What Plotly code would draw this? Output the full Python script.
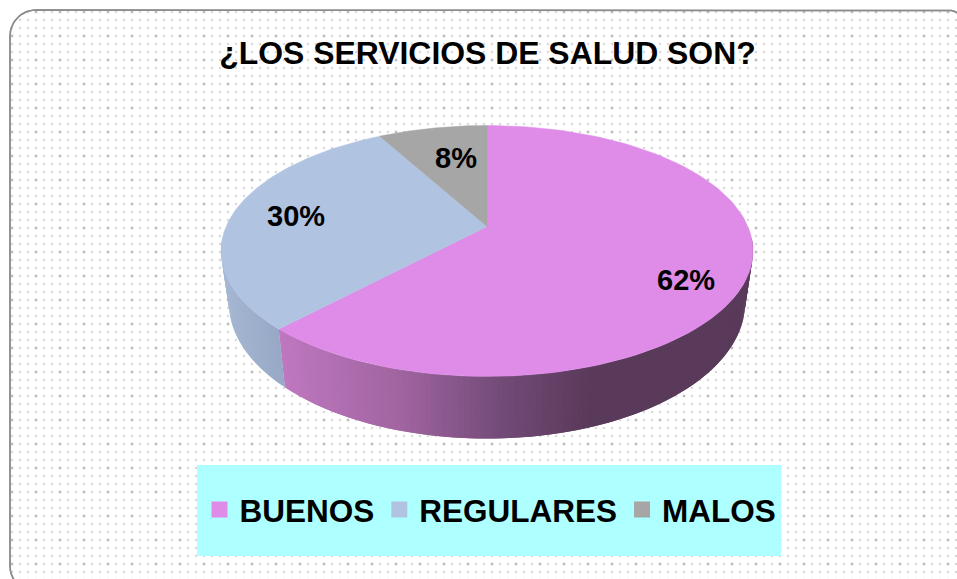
import numpy as np
import plotly.graph_objects as go

# ---- data ----
TITLE = "¿LOS SERVICIOS DE SALUD SON?"
categories = ["BUENOS", "REGULARES", "MALOS"]
values = [62, 30, 8]

# ---- styles / geometry ----
W, H = 957, 579
TOP_COLORS = ["#DE8CE8", "#B0C4E2", "#A6A6A6"]
# side shade stops per slice: (pixel x, rgb)
SIDE_STOPS = [
    [(277, (192, 120, 192)), (400, (160, 100, 160)), (500, (115, 75, 120)), (590, (90, 58, 90)), (760, (90, 58, 90))],
    [(221, (165, 183, 210)), (285, (150, 167, 197))],
    [(0, (120, 120, 120)), (957, (120, 120, 120))],
]
APEX_X, APEX_Y = 487, 226.5
A, B, K = 260.9, 120.7, 0.195
DEPTH, SHRINK = 50, 0.97
LABEL_POS = [(686, 280), (296, 216), (456, 158)]
FRAME = (10, 10, 972, 592, 26)
LEGEND_BOX = (197, 465, 781, 556)


def top_point(theta):
    u, v = np.sin(theta), np.cos(theta)
    d = 1 + K * v
    return APEX_X + A * u / d, APEX_Y - B * v / d


def bottom_point(theta):
    x, y = top_point(theta)
    d = 1 + K * np.cos(theta)
    return APEX_X + (x - APEX_X) * SHRINK, y + DEPTH / d


def shade(stops, x):
    xs = [s[0] for s in stops]
    rgb = [np.interp(x, xs, [s[1][i] for s in stops]) for i in range(3)]
    return "rgb(%d,%d,%d)" % tuple(int(round(c)) for c in rgb)


fig = go.Figure()

# frame with dotted background
x0, y0, x1, y1, r = FRAME
t = np.linspace(0, np.pi / 2, 16)
fx = np.concatenate([x0 + r - r * np.cos(t), x1 - r + r * np.sin(t), x1 - r + r * np.cos(t), x0 + r - r * np.sin(t), [x0]])
fy = np.concatenate([y0 + r - r * np.sin(t), y0 + r - r * np.cos(t), y1 - r + r * np.sin(t), y1 - r + r * np.cos(t), [y0 + r]])
fig.add_trace(go.Scatter(
    x=fx, y=fy, mode="lines", fill="toself", fillcolor="white",
    fillpattern=dict(shape=".", size=8, solidity=0.08, fgcolor="#b2b2b2", bgcolor="white"),
    line=dict(color="#8c8c8c", width=1.5), hoverinfo="skip", showlegend=False))
fig.add_trace(go.Scatter(
    x=fx, y=fy, mode="lines", fill="toself", fillcolor="rgba(0,0,0,0)",
    fillpattern=dict(shape=".", size=24, solidity=0.012, fgcolor="#a0a0a0", bgcolor="rgba(0,0,0,0)"),
    line=dict(color="#8c8c8c", width=1.5), hoverinfo="skip", showlegend=False))

# slices
fractions = np.array(values, dtype=float) / sum(values)
edges = np.concatenate([[0], np.cumsum(fractions)]) * 2 * np.pi

# sides: each band overlaps the next one so no seams show; painted left to right in angle order
for i in range(len(values)):
    a0, a1 = edges[i], edges[i + 1]
    lo, hi = max(a0, np.radians(95)), min(a1, np.radians(265))
    if hi <= lo:
        continue
    n = max(2, int(np.degrees(hi - lo)))
    ts = np.linspace(lo, hi, n + 1)
    for j in range(n):
        s, e = ts[j], ts[min(j + 2, n)]
        xa, ya = top_point(s)
        xb, yb = top_point(e)
        xc, yc = bottom_point(e)
        xd, yd = bottom_point(s)
        col = shade(SIDE_STOPS[i], top_point((ts[j] + ts[j + 1]) / 2)[0])
        fig.add_trace(go.Scatter(
            x=[xa, xb, xc, xd, xa], y=[ya, yb, yc, yd, ya], mode="lines", fill="toself",
            fillcolor=col, line=dict(width=0), hoverinfo="skip", showlegend=False))

# top faces
for i, name in enumerate(categories):
    ts = np.linspace(edges[i], edges[i + 1], 120)
    px, py = top_point(ts)
    fig.add_trace(go.Scatter(
        x=np.concatenate([[APEX_X], px, [APEX_X]]), y=np.concatenate([[APEX_Y], py, [APEX_Y]]),
        mode="lines", fill="toself", fillcolor=TOP_COLORS[i],
        line=dict(color=TOP_COLORS[i], width=0.5), name=name, text=f"{name}: {values[i]}%",
        hoverinfo="text", showlegend=False))

# legend keys
for i, name in enumerate(categories):
    fig.add_trace(go.Scatter(
        x=[None], y=[None], mode="markers", name=name,
        marker=dict(symbol="square", size=17, color=TOP_COLORS[i])))

annotations = [
    dict(x=p[0], y=p[1], text=f"<b>{v}%</b>", showarrow=False, xref="x", yref="y",
         font=dict(family="Liberation Sans", size=29, color="black"))
    for v, p in zip(values, LABEL_POS)
]

lx0, ly0, lx1, ly1 = LEGEND_BOX
fig.update_layout(
    width=W, height=H, autosize=False,
    margin=dict(l=0, r=0, t=0, b=0),
    paper_bgcolor="white", plot_bgcolor="white",
    xaxis=dict(range=[0, W], visible=False, fixedrange=True),
    yaxis=dict(range=[H, 0], visible=False, fixedrange=True),
    title=dict(text=f"<b>{TITLE}</b>", x=487.5 / W, xanchor="center", y=1 - 53 / H, yanchor="middle",
               font=dict(family="Liberation Sans", size=31.9, color="black")),
    shapes=[dict(type="rect", x0=lx0, y0=ly0, x1=lx1, y1=ly1, fillcolor="#AEFFFF",
                 line=dict(width=0), layer="above")],
    legend=dict(orientation="h", x=(lx0 + 2.5) / W, xanchor="left", y=1 - 509.5 / H, yanchor="middle",
                bgcolor="rgba(0,0,0,0)", font=dict(family="Liberation Sans", size=31.5, color="black", weight="bold"),
                itemsizing="trace", itemclick=False, itemdoubleclick=False),
    annotations=annotations,
    hovermode="closest",
)

fig.write_html("out.html", config=dict(displayModeBar=False),
               post_script="document.body.style.margin='0';document.documentElement.style.overflow='hidden';")
